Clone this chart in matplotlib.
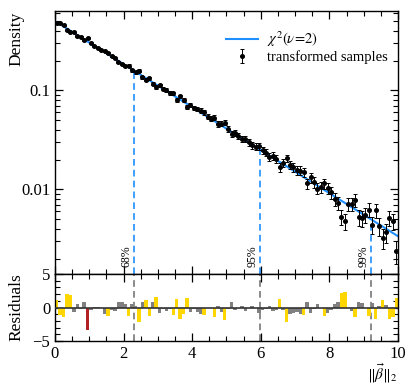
import numpy as np
import matplotlib
matplotlib.use('Agg')
import matplotlib.pyplot as plt
from matplotlib.ticker import MultipleLocator, FixedLocator

plt.rcParams['font.family'] = ['Liberation Serif', 'DejaVu Serif']
plt.rcParams['mathtext.fontset'] = 'stix'

# histogram of transformed samples (bin width 0.1, 60000 samples)
n_samples = 60000
bin_width = 0.1
bin_centers = np.arange(0.05, 10.0, 0.1)
density = [
    0.4782, 0.4736, 0.4532, 0.4030, 0.3838, 0.3854, 0.3570, 0.3452, 0.3210, 0.3348,
    0.2979, 0.2804, 0.2666, 0.2549, 0.2479, 0.2378, 0.2215, 0.2113, 0.1937, 0.1838,
    0.1769, 0.1776, 0.1597, 0.1529, 0.1573, 0.1361, 0.1277, 0.1319, 0.1165, 0.1078,
    0.1120, 0.1043, 0.1005, 0.0945, 0.0933, 0.0799, 0.0868, 0.0803, 0.0681, 0.0718,
    0.0667, 0.0651, 0.0626, 0.0602, 0.0544, 0.0517, 0.0529, 0.0458, 0.0461, 0.0471,
    0.0406, 0.0362, 0.0370, 0.0346, 0.0323, 0.0323, 0.0299, 0.0279, 0.0270, 0.0273,
    0.0249, 0.0235, 0.0214, 0.0218, 0.0204, 0.0168, 0.0185, 0.0206, 0.0178, 0.0168,
    0.0157, 0.0155, 0.0150, 0.0115, 0.0132, 0.0118, 0.0102, 0.0105, 0.0115, 0.0103,
    0.00932, 0.00797, 0.00723, 0.00532, 0.00479, 0.00708, 0.00716, 0.00780, 0.00525, 0.00512,
    0.00553, 0.00627, 0.00437, 0.00617, 0.00427, 0.00326, 0.00369, 0.00518, 0.00477, 0.00240,
]
# (model - data) / sigma
residuals = [
    1.05, -1.1, -1.4, 2.0, 1.9, -0.7, 0.55, -0.2, 0.8, -3.3,
    -0.3, 0.15, 0.15, -0.05, -0.9, -1.2, -0.4, -0.5, 0.8, 0.85,
    0.45, -1.3, 0.5, 0.3, -2.1, 0.75, 1.1, -1.2, 0.85, 1.5,
    -0.75, -0.2, -0.5, -0.2, -1.1, 1.3, -1.7, -1.0, 1.4, -0.7,
    -0.2, -0.7, -0.9, -1.1, -0.1, -0.1, -1.4, 0.3, -0.65, -1.9,
    -0.2, 0.75, -0.3, -0.05, 0.2, -0.5, -0.1, 0.2, -0.05, -0.8,
    -0.3, -0.2, 0.3, -0.5, -0.3, 1.2, -0.3, -2.1, -0.9, -0.8,
    -0.6, -0.95, -1.1, 0.8, -0.75, -0.2, 0.5, -0.1, -1.25, -0.75,
    -0.3, 0.45, 0.75, 2.1, 2.3, -0.1, -0.5, -1.45, 0.75, 0.6,
    -0.1, -1.2, 0.6, -1.7, 0.2, 1.15, 0.4, -1.7, -1.45, 1.4,
]
quantile_x = [2.30, 5.99, 9.21]
quantile_labels = ['68%', '95%', '99%']

density = np.array(density)
residuals = np.array(residuals)
yerr = np.sqrt(density / (n_samples * bin_width))

xs = np.linspace(0, 10, 400)
pdf = 0.5 * np.exp(-xs / 2)

fig = plt.figure(figsize=(4.15, 3.9), dpi=100)
ax = fig.add_axes([0.1325, 0.2974, 0.8265, 0.674])
axr = fig.add_axes([0.1325, 0.1256, 0.8265, 0.1718], sharex=ax)

blue = '#1f8fff'
ax.plot(xs, pdf, color=blue, lw=1.5, label=r'$\chi^2(\nu\!=\!2)$', zorder=2)
ax.errorbar(bin_centers, density, yerr=yerr, fmt='o', color='black', ms=2.6,
            elinewidth=0.7, capsize=1.4, capthick=0.7, label='transformed samples', zorder=3)

ax.set_yscale('log')
ax.set_xlim(0, 10)
ax.set_ylim(0.0014, 0.63)

for q, lab in zip(quantile_x, quantile_labels):
    ymax = 0.5 * np.exp(-q / 2)
    ax.plot([q, q], [0.0014, ymax], color=blue, ls=(0, (4, 2.5)), lw=1.2, zorder=1)
    ax.text(q - 0.04, 0.00163, lab, rotation=90, ha='right', va='bottom', fontsize=8.5)
    axr.axvline(q, color='#777777', ls=(0, (4, 2.5)), lw=1.2, zorder=1)

ax.set_ylabel('Density', fontsize=12.5, loc='top')
ax.yaxis.set_label_coords(-0.088, 1.0)
ax.yaxis.set_major_locator(FixedLocator([0.01, 0.1]))
ax.set_yticklabels(['0.01', '0.1'])
ax.tick_params(labelbottom=False)

ax.legend(loc='upper right', frameon=False, fontsize=10.5, handlelength=2.2,
          bbox_to_anchor=(1.0, 0.97), borderaxespad=0.3, handletextpad=0.6, labelspacing=0.1)

colors = []
for r in residuals:
    if abs(r) >= 3:
        colors.append('#b22222')
    elif abs(r) >= 1:
        colors.append('#ffd700')
    else:
        colors.append('#808080')
axr.bar(bin_centers, residuals, width=bin_width, color=colors, zorder=2)
axr.axhline(0, color='#333333', lw=1.2, zorder=3)
axr.set_ylim(-5, 5)
axr.yaxis.set_major_locator(FixedLocator([-5, 0, 5]))
axr.yaxis.set_minor_locator(MultipleLocator(1))
axr.set_ylabel('Residuals', fontsize=12.5)
axr.yaxis.set_label_coords(-0.088, 0.5)
axr.set_xlabel(r'$\|\vec{\beta}\|_2$', fontsize=11, loc='right', labelpad=0)

for a in (ax, axr):
    a.xaxis.set_major_locator(MultipleLocator(2))
    a.xaxis.set_minor_locator(MultipleLocator(0.5))
    a.tick_params(which='both', direction='in', top=True, right=True, labelsize=12)
    a.tick_params(which='major', length=6, width=0.9)
    a.tick_params(which='minor', length=3.5, width=0.8)
    for s in a.spines.values():
        s.set_linewidth(1.0)

fig.savefig('out.png', dpi=100)
